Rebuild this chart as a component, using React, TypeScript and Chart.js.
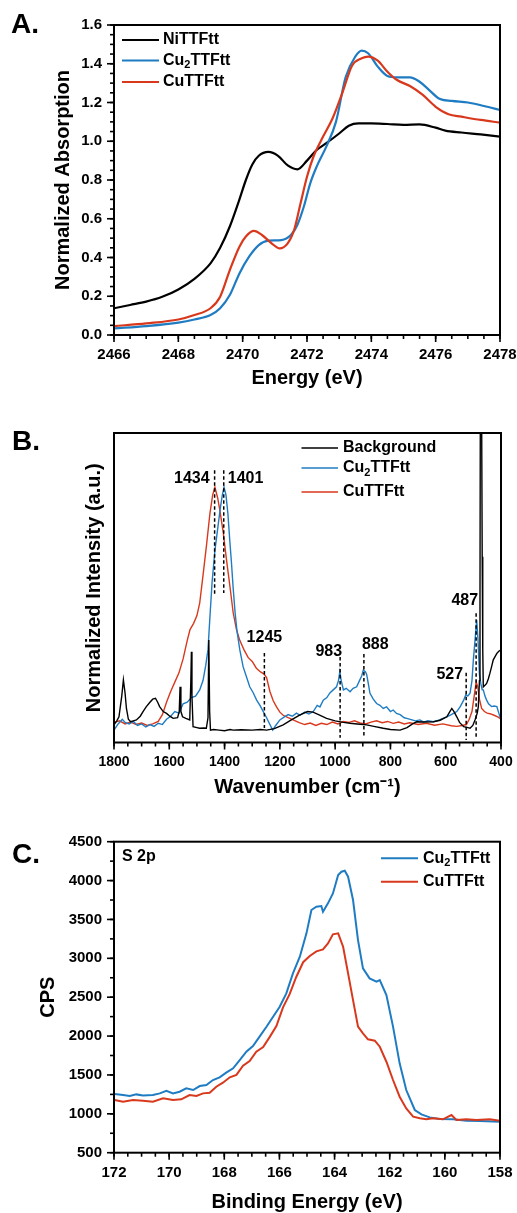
import React, { useEffect, useRef } from 'react';
import { Chart, registerables } from 'chart.js';

Chart.register(...registerables);

const FONT = '"Liberation Sans", Arial, Helvetica, sans-serif';
const INK = '#000000';
const BLUE = '#1f7cc2';
const RED = '#d8391d';

// ---------------- Panel A : S K-edge XANES ----------------
const aTicksX = [2466, 2468, 2470, 2472, 2474, 2476, 2478];
const aTicksY = [0, 0.2, 0.4, 0.6, 0.8, 1.0, 1.2, 1.4, 1.6];

const aNiE = [2466, 2466.5, 2467, 2467.5, 2468, 2468.5, 2469, 2469.3, 2469.6, 2469.9, 2470.1, 2470.3, 2470.5, 2470.8, 2471.1, 2471.4, 2471.7, 2472, 2472.3, 2472.6, 2473, 2473.3, 2473.6, 2474, 2474.5, 2475, 2475.5, 2476, 2476.3, 2476.8, 2477.4, 2478];
const aNiY = [0.138, 0.155, 0.172, 0.197, 0.235, 0.29, 0.37, 0.45, 0.56, 0.70, 0.80, 0.88, 0.925, 0.945, 0.925, 0.875, 0.855, 0.90, 0.955, 0.99, 1.04, 1.08, 1.092, 1.092, 1.089, 1.085, 1.087, 1.07, 1.055, 1.045, 1.035, 1.024];

const aCu2E = [2466, 2467, 2468, 2468.5, 2469, 2469.3, 2469.6, 2469.9, 2470.2, 2470.5, 2470.8, 2471.2, 2471.5, 2471.7, 2471.9, 2472.1, 2472.3, 2472.6, 2472.9, 2473.2, 2473.5, 2473.7, 2473.9, 2474.2, 2474.5, 2474.8, 2475.2, 2475.5, 2475.8, 2476.1, 2476.5, 2477, 2477.5, 2478];
const aCu2Y = [0.034, 0.046, 0.064, 0.08, 0.103, 0.138, 0.206, 0.318, 0.404, 0.464, 0.487, 0.49, 0.516, 0.568, 0.662, 0.783, 0.869, 0.972, 1.10, 1.33, 1.437, 1.468, 1.454, 1.385, 1.337, 1.33, 1.33, 1.307, 1.264, 1.221, 1.208, 1.2, 1.182, 1.161];

const aCuE = [2466, 2467, 2468, 2468.5, 2469, 2469.3, 2469.6, 2469.9, 2470.1, 2470.35, 2470.6, 2470.9, 2471.15, 2471.4, 2471.6, 2471.8, 2472.0, 2472.2, 2472.5, 2472.8, 2473.1, 2473.4, 2473.7, 2473.9, 2474.2, 2474.5, 2474.8, 2475.2, 2475.6, 2476.0, 2476.4, 2476.8, 2477.4, 2478];
const aCuY = [0.046, 0.06, 0.08, 0.103, 0.138, 0.198, 0.335, 0.456, 0.508, 0.537, 0.516, 0.473, 0.447, 0.473, 0.542, 0.68, 0.817, 0.92, 1.024, 1.12, 1.25, 1.39, 1.428, 1.437, 1.416, 1.359, 1.316, 1.285, 1.239, 1.178, 1.139, 1.127, 1.11, 1.096];

// ---------------- Panel B : Raman ----------------
const bTicksX = [1800, 1600, 1400, 1200, 1000, 800, 600, 400];

const bBgW = [1800, 1790, 1782, 1772, 1766, 1760, 1755, 1748, 1740, 1730, 1719, 1705, 1695, 1683, 1670, 1660, 1650, 1642, 1635, 1622, 1610, 1598, 1586, 1570, 1564, 1561, 1558, 1552, 1540, 1526, 1522, 1520, 1518, 1514, 1500, 1490, 1475, 1466, 1460, 1457, 1454, 1451, 1440, 1420, 1400, 1380, 1369, 1340, 1300, 1270, 1248, 1220, 1188, 1160, 1127, 1100, 1080, 1060, 1031, 1000, 970, 946, 920, 886, 860, 826, 800, 765, 740, 720, 705, 680, 644, 620, 596, 585, 578, 570, 560, 550, 535, 520, 512, 502, 494, 486, 482, 478, 476, 474, 472, 470, 468, 466, 464, 458, 452, 446, 440, 434, 428, 420, 415, 408, 400];
const bBgI = [0.057, 0.070, 0.083, 0.150, 0.202, 0.160, 0.110, 0.075, 0.067, 0.070, 0.073, 0.085, 0.100, 0.116, 0.130, 0.140, 0.143, 0.130, 0.116, 0.100, 0.094, 0.085, 0.078, 0.080, 0.100, 0.180, 0.100, 0.083, 0.078, 0.073, 0.200, 0.293, 0.150, 0.051, 0.048, 0.046, 0.047, 0.046, 0.080, 0.331, 0.100, 0.040, 0.042, 0.040, 0.038, 0.042, 0.040, 0.041, 0.040, 0.042, 0.040, 0.045, 0.057, 0.072, 0.089, 0.100, 0.098, 0.090, 0.078, 0.070, 0.065, 0.062, 0.060, 0.057, 0.052, 0.046, 0.042, 0.040, 0.048, 0.060, 0.067, 0.066, 0.067, 0.072, 0.083, 0.100, 0.110, 0.100, 0.083, 0.065, 0.051, 0.048, 0.046, 0.055, 0.073, 0.095, 0.116, 0.200, 0.460, 1.5, 1.5, 1.5, 0.600, 0.300, 0.180, 0.185, 0.191, 0.205, 0.224, 0.245, 0.267, 0.280, 0.288, 0.295, 0.299];

const bCu2W = [1800, 1785, 1770, 1760, 1745, 1730, 1715, 1700, 1685, 1670, 1655, 1640, 1625, 1610, 1595, 1580, 1565, 1550, 1535, 1520, 1505, 1490, 1478, 1468, 1460, 1452, 1445, 1435, 1425, 1415, 1408, 1402, 1395, 1388, 1381, 1375, 1369, 1362, 1355, 1345, 1333, 1320, 1309, 1296, 1284, 1272, 1260, 1248, 1236, 1226, 1215, 1200, 1185, 1170, 1155, 1140, 1127, 1110, 1095, 1079, 1065, 1055, 1043, 1030, 1019, 1007, 995, 988, 983, 978, 970, 960, 946, 935, 922, 912, 904, 898, 890, 886, 880, 874, 862, 850, 838, 826, 814, 800, 790, 778, 765, 750, 741, 725, 710, 693, 680, 665, 644, 625, 610, 596, 580, 570, 560, 548, 535, 527, 520, 512, 505, 500, 494, 488, 483, 478, 473, 468, 464, 458, 452, 445, 434, 425, 415, 408, 400];
const bCu2I = [0.040, 0.060, 0.075, 0.065, 0.060, 0.068, 0.055, 0.060, 0.050, 0.058, 0.052, 0.062, 0.058, 0.075, 0.085, 0.100, 0.095, 0.125, 0.130, 0.145, 0.150, 0.170, 0.200, 0.250, 0.300, 0.420, 0.520, 0.620, 0.690, 0.760, 0.800, 0.825, 0.800, 0.740, 0.650, 0.580, 0.500, 0.420, 0.360, 0.300, 0.245, 0.210, 0.180, 0.160, 0.137, 0.120, 0.100, 0.080, 0.058, 0.040, 0.055, 0.073, 0.082, 0.090, 0.085, 0.095, 0.088, 0.098, 0.092, 0.100, 0.120, 0.115, 0.137, 0.145, 0.160, 0.170, 0.180, 0.200, 0.229, 0.200, 0.170, 0.175, 0.164, 0.175, 0.180, 0.200, 0.215, 0.234, 0.228, 0.220, 0.190, 0.159, 0.140, 0.126, 0.120, 0.110, 0.115, 0.100, 0.105, 0.094, 0.090, 0.080, 0.078, 0.074, 0.070, 0.073, 0.066, 0.070, 0.067, 0.072, 0.078, 0.083, 0.090, 0.095, 0.100, 0.115, 0.137, 0.155, 0.150, 0.159, 0.200, 0.267, 0.330, 0.396, 0.330, 0.220, 0.190, 0.170, 0.170, 0.150, 0.137, 0.125, 0.116, 0.118, 0.116, 0.095, 0.073];

const bCuW = [1800, 1780, 1760, 1740, 1720, 1700, 1680, 1660, 1640, 1625, 1610, 1595, 1580, 1565, 1550, 1535, 1525, 1512, 1500, 1490, 1478, 1465, 1453, 1443, 1435, 1425, 1417, 1405, 1393, 1380, 1369, 1357, 1345, 1330, 1315, 1300, 1285, 1270, 1258, 1248, 1236, 1224, 1212, 1200, 1188, 1170, 1150, 1130, 1110, 1090, 1070, 1050, 1030, 1010, 990, 970, 950, 930, 910, 890, 870, 850, 830, 810, 790, 770, 750, 730, 700, 670, 640, 610, 580, 560, 540, 525, 515, 505, 497, 490, 484, 478, 470, 460, 450, 440, 425, 410, 400];
const bCuI = [0.065, 0.070, 0.060, 0.066, 0.058, 0.063, 0.055, 0.060, 0.068, 0.090, 0.130, 0.165, 0.195, 0.225, 0.270, 0.330, 0.365, 0.385, 0.410, 0.450, 0.540, 0.640, 0.740, 0.800, 0.825, 0.790, 0.750, 0.680, 0.590, 0.500, 0.420, 0.365, 0.330, 0.300, 0.275, 0.262, 0.240, 0.228, 0.222, 0.210, 0.165, 0.135, 0.115, 0.098, 0.088, 0.080, 0.072, 0.064, 0.058, 0.063, 0.055, 0.062, 0.058, 0.066, 0.060, 0.068, 0.065, 0.070, 0.063, 0.060, 0.066, 0.070, 0.064, 0.068, 0.062, 0.066, 0.060, 0.064, 0.058, 0.062, 0.056, 0.060, 0.054, 0.052, 0.055, 0.058, 0.075, 0.100, 0.150, 0.195, 0.180, 0.140, 0.110, 0.100, 0.095, 0.093, 0.088, 0.082, 0.075];

// peak markers (dashed lines)
const bPeakText = ['1434', '1401', '1245', '983', '888', '527', '487'];
const bPeakPos = [1436, 1403, 1256, 982, 896, 526, 490];
const bPeakTop = [0.88, 0.88, 0.289, 0.276, 0.286, 0.225, 0.418];
const bPeakBase = [0.477, 0.483, 0.047, 0.015, 0.018, 0.008, 0.015];

// ---------------- Panel C : XPS S 2p ----------------
const cTicksX = [172, 170, 168, 166, 164, 162, 160, 158];
const cTicksY = [500, 1000, 1500, 2000, 2500, 3000, 3500, 4000, 4500];

const cCu2E = [171.98, 171.67, 171.43, 171.19, 170.95, 170.59, 170.34, 170.10, 169.86, 169.62, 169.38, 169.13, 168.89, 168.65, 168.41, 168.17, 167.93, 167.68, 167.44, 167.20, 166.96, 166.72, 166.47, 166.23, 165.99, 165.75, 165.51, 165.26, 165.02, 164.84, 164.66, 164.48, 164.42, 164.24, 164.06, 163.87, 163.75, 163.63, 163.51, 163.33, 163.15, 162.97, 162.73, 162.48, 162.36, 162.12, 161.88, 161.64, 161.40, 161.09, 160.85, 160.55, 160.19, 159.70, 159.22, 158.74, 158.01];
const cCu2C = [1254, 1242, 1229, 1250, 1237, 1242, 1263, 1297, 1263, 1284, 1327, 1306, 1357, 1370, 1435, 1469, 1529, 1585, 1692, 1799, 1872, 1992, 2120, 2249, 2378, 2549, 2806, 3021, 3321, 3621, 3664, 3672, 3600, 3707, 3835, 4071, 4114, 4127, 4050, 3750, 3235, 2871, 2742, 2699, 2721, 2528, 2121, 1649, 1306, 1049, 993, 954, 933, 929, 912, 907, 899];

const cCuE = [171.98, 171.67, 171.31, 170.95, 170.59, 170.22, 169.86, 169.56, 169.26, 169.01, 168.77, 168.53, 168.29, 168.05, 167.80, 167.56, 167.32, 167.08, 166.84, 166.59, 166.35, 166.11, 165.87, 165.63, 165.39, 165.14, 164.90, 164.66, 164.42, 164.24, 164.06, 163.87, 163.69, 163.51, 163.33, 163.15, 162.97, 162.79, 162.54, 162.36, 162.12, 161.88, 161.64, 161.40, 161.15, 160.91, 160.67, 160.43, 160.07, 159.76, 159.58, 159.22, 158.86, 158.37, 158.01];
const cCuC = [1177, 1156, 1177, 1169, 1156, 1199, 1177, 1186, 1242, 1229, 1263, 1272, 1349, 1400, 1470, 1500, 1620, 1680, 1800, 1860, 1990, 2130, 2370, 2540, 2760, 2950, 3030, 3090, 3115, 3192, 3308, 3321, 3149, 2806, 2463, 2121, 2035, 1958, 1941, 1863, 1670, 1435, 1220, 1070, 963, 942, 929, 942, 929, 984, 920, 929, 920, 929, 912];

// ---------------- helpers ----------------
type Part = { t: string; sub?: boolean };
const NI: Part[] = [{ t: 'NiTTFtt' }];
const CU2: Part[] = [{ t: 'Cu' }, { t: '2', sub: true }, { t: 'TTFtt' }];
const CU: Part[] = [{ t: 'CuTTFtt' }];
const BG: Part[] = [{ t: 'Background' }];

const pts = (xs: number[], ys: number[]) => xs.map((x, i) => ({ x, y: ys[i] }));

function drawParts(ctx: CanvasRenderingContext2D, parts: Part[], x: number, y: number, size: number) {
  let cx = x;
  ctx.textAlign = 'left';
  ctx.textBaseline = 'middle';
  for (const p of parts) {
    const fs = p.sub ? Math.round(size * 0.7) : size;
    ctx.font = `bold ${fs}px ${FONT}`;
    ctx.fillText(p.t, cx, y + (p.sub ? size * 0.3 : 0));
    cx += ctx.measureText(p.t).width;
  }
}

type LegendItem = { parts: Part[]; color: string; lw: number; dy: number };
type Decor = {
  letter: string;
  letterX: number;
  letterY: number;
  letterSize: number;
  legendX1: number;
  legendX2: number;
  legendTextX: number;
  legend: LegendItem[];
  note?: { text: string; dx: number; dy: number };
  xMajor?: number[];
  xMinorStep?: number;
  yMajor?: number[];
  yMinorStep?: number;
  peaks?: boolean;
};

const peakStyle = [
  { align: 'right', dx: -5, dy: 8 },
  { align: 'left', dx: 4, dy: 8 },
  { align: 'center', dx: 0, dy: -15 },
  { align: 'right', dx: 2, dy: -5 },
  { align: 'left', dx: -2, dy: -9 },
  { align: 'right', dx: -3, dy: 2 },
  { align: 'right', dx: 2, dy: -13 },
];

function makeDecor(cfg: Decor) {
  return {
    id: 'decor',
    afterDatasetsDraw(chart: any) {
      const { ctx, chartArea: a, scales } = chart;
      const xs = scales.x;
      const ys = scales.y;
      ctx.save();
      if (cfg.peaks) {
        ctx.strokeStyle = INK;
        ctx.lineWidth = 1.5;
        ctx.setLineDash([3.5, 2.5]);
        bPeakPos.forEach((w, i) => {
          const px = xs.getPixelForValue(w);
          ctx.beginPath();
          ctx.moveTo(px, ys.getPixelForValue(bPeakTop[i]));
          ctx.lineTo(px, ys.getPixelForValue(bPeakBase[i]));
          ctx.stroke();
        });
        ctx.setLineDash([]);
        ctx.fillStyle = INK;
        ctx.font = `bold 16px ${FONT}`;
        ctx.textBaseline = 'middle';
        bPeakPos.forEach((w, i) => {
          const st = peakStyle[i];
          const px = xs.getPixelForValue(w) + st.dx;
          const py = ys.getPixelForValue(bPeakTop[i]) + st.dy;
          ctx.textAlign = st.align as CanvasTextAlign;
          ctx.fillText(bPeakText[i], px, py);
        });
      }
      // frame
      ctx.setLineDash([]);
      ctx.strokeStyle = INK;
      ctx.lineWidth = 2;
      ctx.strokeRect(a.left, a.top, a.right - a.left, a.bottom - a.top);
      ctx.lineWidth = 1.6;
      const tick = (axis: 'x' | 'y', v: number, len: number) => {
        ctx.beginPath();
        if (axis === 'x') {
          const p = xs.getPixelForValue(v);
          ctx.moveTo(p, a.bottom);
          ctx.lineTo(p, a.bottom + len);
        } else {
          const p = ys.getPixelForValue(v);
          ctx.moveTo(a.left, p);
          ctx.lineTo(a.left - len, p);
        }
        ctx.stroke();
      };
      if (cfg.xMajor) {
        cfg.xMajor.forEach((v) => tick('x', v, 7));
        if (cfg.xMinorStep) {
          const lo = Math.min(xs.min, xs.max);
          const n = Math.round((Math.max(xs.min, xs.max) - lo) / cfg.xMinorStep);
          for (let i = 0; i <= n; i++) tick('x', lo + i * cfg.xMinorStep, 4);
        }
      }
      if (cfg.yMajor) {
        cfg.yMajor.forEach((v) => tick('y', v, 7));
        if (cfg.yMinorStep) {
          const n = Math.round((ys.max - ys.min) / cfg.yMinorStep);
          for (let i = 0; i <= n; i++) tick('y', ys.min + i * cfg.yMinorStep, 4);
        }
      }
      ctx.restore();
    },
    afterDraw(chart: any) {
      const { ctx, chartArea: a } = chart;
      ctx.save();
      ctx.fillStyle = INK;
      ctx.font = `bold ${cfg.letterSize}px ${FONT}`;
      ctx.textAlign = 'left';
      ctx.textBaseline = 'alphabetic';
      ctx.fillText(cfg.letter, cfg.letterX, cfg.letterY);
      cfg.legend.forEach((it) => {
        const y = a.top + it.dy;
        ctx.strokeStyle = it.color;
        ctx.lineWidth = it.lw;
        ctx.beginPath();
        ctx.moveTo(a.left + cfg.legendX1, y);
        ctx.lineTo(a.left + cfg.legendX2, y);
        ctx.stroke();
        ctx.fillStyle = INK;
        drawParts(ctx, it.parts, a.left + cfg.legendTextX, y, 16);
      });
      if (cfg.note) {
        ctx.fillStyle = INK;
        drawParts(ctx, [{ t: cfg.note.text }], a.left + cfg.note.dx, a.top + cfg.note.dy, 16);
      }
      ctx.restore();
    },
  };
}

const tickFont = (size: number) => ({ family: FONT, size, weight: 'bold' as const });
const titleFont = { family: FONT, size: 20, weight: 'bold' as const, lineHeight: 1.2 };

function baseLine(data: any, color: string, width: number, order: number, smooth: boolean) {
  return {
    data,
    borderColor: color,
    backgroundColor: color,
    borderWidth: width,
    pointRadius: 0,
    fill: false,
    order,
    tension: 0,
    cubicInterpolationMode: smooth ? ('monotone' as const) : ('default' as const),
  };
}

function buildA(canvas: HTMLCanvasElement) {
  return new Chart(canvas, {
    type: 'line',
    data: {
      datasets: [
        { label: 'NiTTFtt', ...baseLine(pts(aNiE, aNiY), INK, 2.2, 2, true) },
        { label: 'Cu2TTFtt', ...baseLine(pts(aCu2E, aCu2Y), BLUE, 2.2, 1, true) },
        { label: 'CuTTFtt', ...baseLine(pts(aCuE, aCuY), RED, 2.2, 0, true) },
      ],
    },
    options: {
      responsive: false,
      animation: false,
      layout: { padding: { left: 0, right: 17, top: 25, bottom: 0 } },
      plugins: { legend: { display: false }, tooltip: { enabled: false } },
      scales: {
        x: {
          type: 'linear',
          min: 2466,
          max: 2478,
          grid: { display: false, drawTicks: false },
          border: { display: false },
          ticks: { padding: 11, color: INK, font: tickFont(15), maxRotation: 0, autoSkip: false, callback: (v: any) => String(v) },
          afterBuildTicks: (s: any) => { s.ticks = aTicksX.map((v) => ({ value: v })); },
          title: { display: true, text: 'Energy (eV)', color: INK, font: titleFont, padding: { top: 0, bottom: 10 } },
          afterFit: (s: any) => { s.height = 65; s.paddingLeft = 0; s.paddingRight = 0; },
        },
        y: {
          type: 'linear',
          min: 0,
          max: 1.6,
          grid: { display: false, drawTicks: false },
          border: { display: false },
          ticks: { padding: 12, color: INK, font: tickFont(15), autoSkip: false, callback: (v: any) => Number(v).toFixed(1) },
          afterBuildTicks: (s: any) => { s.ticks = aTicksY.map((v) => ({ value: v })); },
          title: { display: true, text: 'Normalized Absorption', color: INK, font: titleFont, padding: { top: 51, bottom: 0 } },
          afterFit: (s: any) => { s.width = 114; s.paddingTop = 0; s.paddingBottom = 0; },
        },
      },
    } as any,
    plugins: [
      makeDecor({
        letter: 'A.', letterX: 11, letterY: 33, letterSize: 28,
        legendX1: 8, legendX2: 45, legendTextX: 49,
        legend: [
          { parts: NI, color: INK, lw: 2.2, dy: 15 },
          { parts: CU2, color: BLUE, lw: 2.2, dy: 35.5 },
          { parts: CU, color: RED, lw: 2.2, dy: 57 },
        ],
        xMajor: aTicksX, xMinorStep: 0.5, yMajor: aTicksY, yMinorStep: 0.05,
      }),
    ],
  });
}

function buildB(canvas: HTMLCanvasElement) {
  return new Chart(canvas, {
    type: 'line',
    data: {
      datasets: [
        { label: 'Background', ...baseLine(pts(bBgW, bBgI), INK, 1.4, 0, false) },
        { label: 'Cu2TTFtt', ...baseLine(pts(bCu2W, bCu2I), BLUE, 1.4, 1, false) },
        { label: 'CuTTFtt', ...baseLine(pts(bCuW, bCuI), RED, 1.4, 2, false) },
      ],
    },
    options: {
      responsive: false,
      animation: false,
      layout: { padding: { left: 0, right: 16, top: 33, bottom: 0 } },
      plugins: { legend: { display: false }, tooltip: { enabled: false } },
      scales: {
        x: {
          type: 'linear',
          min: 400,
          max: 1800,
          reverse: true,
          grid: { display: false, drawTicks: false },
          border: { display: false },
          ticks: { padding: 11, color: INK, font: tickFont(14), maxRotation: 0, autoSkip: false, callback: (v: any) => String(v) },
          afterBuildTicks: (s: any) => { s.ticks = bTicksX.map((v) => ({ value: v })); },
          title: { display: true, text: 'Wavenumber (cm\u207B\u00B9)', color: INK, font: titleFont, padding: { top: 0, bottom: 1 } },
          afterFit: (s: any) => { s.height = 57.5; s.paddingLeft = 0; s.paddingRight = 0; },
        },
        y: {
          type: 'linear',
          min: 0,
          max: 1,
          grid: { display: false, drawTicks: false },
          border: { display: false },
          ticks: { display: false },
          title: { display: true, text: 'Normalized Intensity (a.u.)', color: INK, font: titleFont, padding: { top: 82, bottom: 0 } },
          afterFit: (s: any) => { s.width = 114; s.paddingTop = 0; s.paddingBottom = 0; },
        },
      },
    } as any,
    plugins: [
      makeDecor({
        letter: 'B.', letterX: 12, letterY: 50, letterSize: 28,
        legendX1: 187.5, legendX2: 224, legendTextX: 229,
        legend: [
          { parts: BG, color: INK, lw: 1.4, dy: 15 },
          { parts: CU2, color: BLUE, lw: 1.4, dy: 35 },
          { parts: CU, color: RED, lw: 1.4, dy: 59 },
        ],
        xMajor: bTicksX, xMinorStep: 50,
        peaks: true,
      }),
    ],
  });
}

function buildC(canvas: HTMLCanvasElement) {
  return new Chart(canvas, {
    type: 'line',
    data: {
      datasets: [
        { label: 'Cu2TTFtt', ...baseLine(pts(cCu2E, cCu2C), BLUE, 2, 1, false) },
        { label: 'CuTTFtt', ...baseLine(pts(cCuE, cCuC), RED, 2, 0, false) },
      ],
    },
    options: {
      responsive: false,
      animation: false,
      layout: { padding: { left: 0, right: 17, top: 41.7, bottom: 0 } },
      plugins: { legend: { display: false }, tooltip: { enabled: false } },
      scales: {
        x: {
          type: 'linear',
          min: 158,
          max: 172,
          reverse: true,
          grid: { display: false, drawTicks: false },
          border: { display: false },
          ticks: { padding: 11, color: INK, font: tickFont(15), maxRotation: 0, autoSkip: false, callback: (v: any) => String(v) },
          afterBuildTicks: (s: any) => { s.ticks = cTicksX.map((v) => ({ value: v })); },
          title: { display: true, text: 'Binding Energy (eV)', color: INK, font: { ...titleFont, lineHeight: 1.0 }, padding: { top: 0, bottom: 1 } },
          afterFit: (s: any) => { s.height = 60.3; s.paddingLeft = 0; s.paddingRight = 0; },
        },
        y: {
          type: 'linear',
          min: 500,
          max: 4500,
          grid: { display: false, drawTicks: false },
          border: { display: false },
          ticks: { padding: 12, color: INK, font: tickFont(15), autoSkip: false, callback: (v: any) => String(v) },
          afterBuildTicks: (s: any) => { s.ticks = cTicksY.map((v) => ({ value: v })); },
          title: { display: true, text: 'CPS', color: INK, font: titleFont, padding: { top: 36, bottom: 0 } },
          afterFit: (s: any) => { s.width = 114; s.paddingTop = 0; s.paddingBottom = 0; },
        },
      },
    } as any,
    plugins: [
      makeDecor({
        letter: 'C.', letterX: 12, letterY: 63, letterSize: 28,
        legendX1: 267, legendX2: 304, legendTextX: 309,
        legend: [
          { parts: CU2, color: BLUE, lw: 2, dy: 16.6 },
          { parts: CU, color: RED, lw: 2, dy: 40 },
        ],
        note: { text: 'S 2p', dx: 8, dy: 15 },
        xMajor: cTicksX, xMinorStep: 0.5, yMajor: cTicksY, yMinorStep: 250,
      }),
    ],
  });
}

function Panel({ top, height, build }: { top: number; height: number; build: (c: HTMLCanvasElement) => Chart }) {
  const ref = useRef<HTMLCanvasElement>(null);
  useEffect(() => {
    if (!ref.current) return;
    const chart = build(ref.current);
    return () => chart.destroy();
  }, [build]);
  return (
    <canvas
      ref={ref}
      width={517}
      height={height}
      style={{ position: 'absolute', left: 0, top, width: 517, height, display: 'block' }}
    />
  );
}

export default function App() {
  return (
    <div style={{ position: 'absolute', left: 0, top: 0, width: 517, height: 1213, background: '#ffffff', overflow: 'hidden' }}>
      <Panel top={0} height={400} build={buildA} />
      <Panel top={400} height={400} build={buildB} />
      <Panel top={800} height={413} build={buildC} />
    </div>
  );
}
